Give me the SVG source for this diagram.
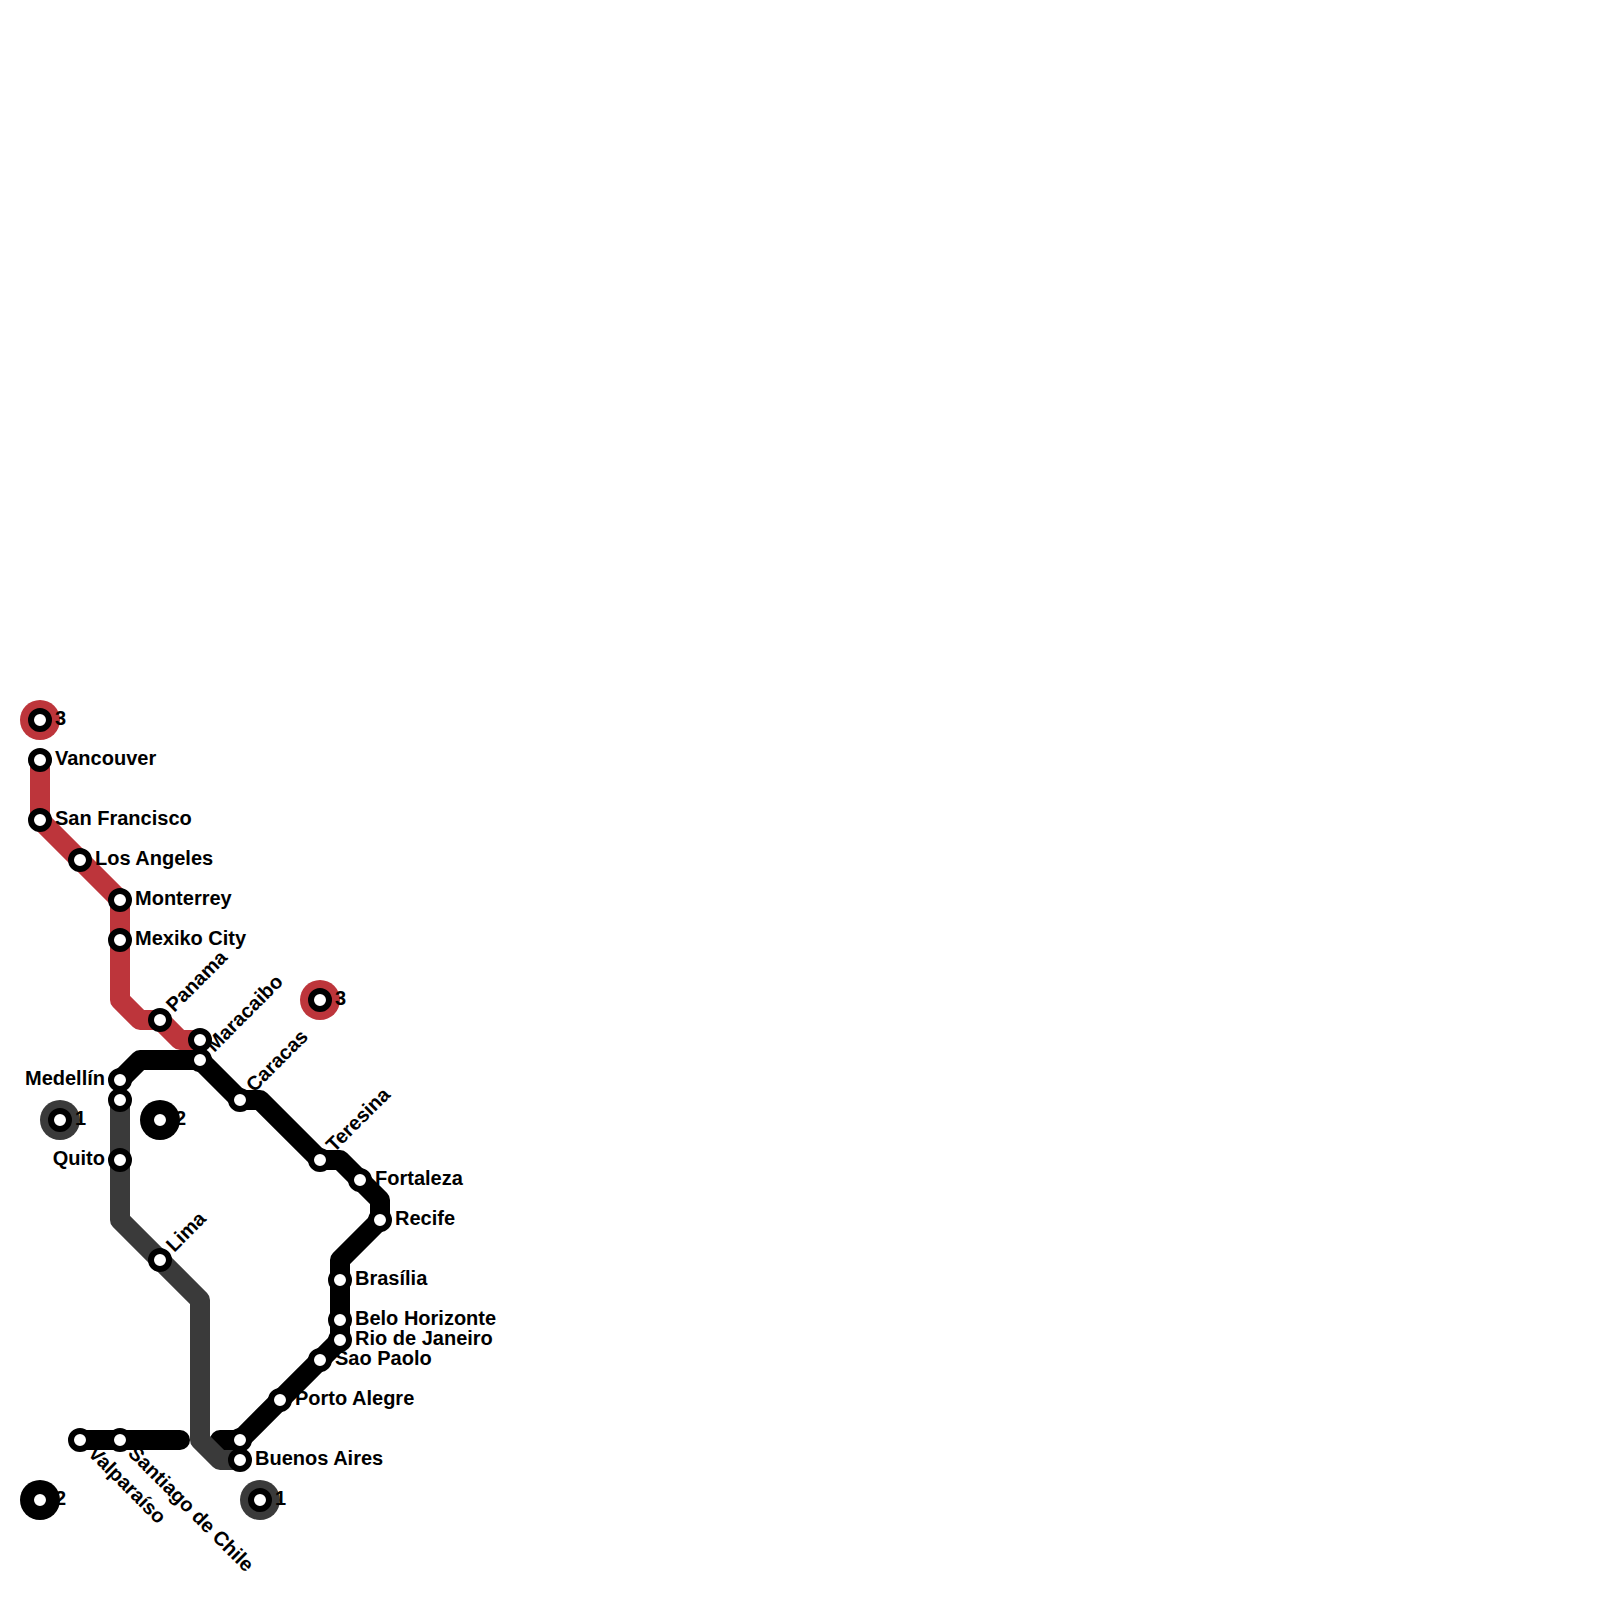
<svg xmlns="http://www.w3.org/2000/svg" width="1600" height="1600" viewBox="0 0 1600 1600">
<style>
.l{fill:none;stroke-width:20;stroke-linecap:round;stroke-linejoin:round}
.red{stroke:#bd353b}.blk{stroke:#000}.gry{stroke:#3a3a3a}
.s{fill:#fff;stroke:#000;stroke-width:6}
text{font-family:"Liberation Sans",Arial,sans-serif;font-weight:700;font-size:20px;fill:#000}
.e{text-anchor:end}
</style>
<g id="connectors">
<path id="line-red" class="l red" d="M40 760V820L120 900V1000L140 1020H160L180 1040H200"/>
<path id="line-black" class="l blk" d="M120 1080L140 1060H200L240 1100H260L320 1160H340L380 1200V1220L340 1260V1340L240 1440H220"/>
<path id="line-black-2" class="l blk" d="M80 1440H180"/>
<path id="line-gray" class="l gry" d="M120 1100V1220L200 1300V1440L220 1460H240"/>
</g>
<g id="term-3a"><circle cx="40" cy="720" r="20" fill="#bd353b"/><circle class="s" cx="40" cy="720" r="9"/><text x="55" y="725">3</text></g>
<g id="term-3b"><circle cx="320" cy="1000" r="20" fill="#bd353b"/><circle class="s" cx="320" cy="1000" r="9"/><text x="335" y="1005">3</text></g>
<g id="term-1a"><circle cx="60" cy="1120" r="20" fill="#3a3a3a"/><circle class="s" cx="60" cy="1120" r="9"/><text x="75" y="1125">1</text></g>
<g id="term-1b"><circle cx="260" cy="1500" r="20" fill="#3a3a3a"/><circle class="s" cx="260" cy="1500" r="9"/><text x="275" y="1505">1</text></g>
<g id="term-2a"><circle cx="160" cy="1120" r="20" fill="#000"/><circle class="s" cx="160" cy="1120" r="9"/><text x="175" y="1125">2</text></g>
<g id="term-2b"><circle cx="40" cy="1500" r="20" fill="#000"/><circle class="s" cx="40" cy="1500" r="9"/><text x="55" y="1505">2</text></g>
<g id="vancouver"><circle class="s" cx="40" cy="760" r="9"/><text x="55" y="765">Vancouver</text></g>
<g id="san-francisco"><circle class="s" cx="40" cy="820" r="9"/><text x="55" y="825">San Francisco</text></g>
<g id="los-angeles"><circle class="s" cx="80" cy="860" r="9"/><text x="95" y="865">Los Angeles</text></g>
<g id="monterrey"><circle class="s" cx="120" cy="900" r="9"/><text x="135" y="905">Monterrey</text></g>
<g id="mexiko-city"><circle class="s" cx="120" cy="940" r="9"/><text x="135" y="945">Mexiko City</text></g>
<g id="panama"><circle class="s" cx="160" cy="1020" r="9"/><text transform="rotate(-45 160 1020)" x="175" y="1025">Panama</text></g>
<g id="maracaibo-red"><circle class="s" cx="200" cy="1040" r="9"/></g>
<g id="maracaibo"><circle class="s" cx="200" cy="1060" r="9"/><text transform="rotate(-45 200 1060)" x="215" y="1065">Maracaibo</text></g>
<g id="caracas"><circle class="s" cx="240" cy="1100" r="9"/><text transform="rotate(-45 240 1100)" x="255" y="1105">Caracas</text></g>
<g id="teresina"><circle class="s" cx="320" cy="1160" r="9"/><text transform="rotate(-45 320 1160)" x="335" y="1165">Teresina</text></g>
<g id="fortaleza"><circle class="s" cx="360" cy="1180" r="9"/><text x="375" y="1185">Fortaleza</text></g>
<g id="recife"><circle class="s" cx="380" cy="1220" r="9"/><text x="395" y="1225">Recife</text></g>
<g id="brasilia"><circle class="s" cx="340" cy="1280" r="9"/><text x="355" y="1285">Brasília</text></g>
<g id="belo-horizonte"><circle class="s" cx="340" cy="1320" r="9"/><text x="355" y="1325">Belo Horizonte</text></g>
<g id="rio"><circle class="s" cx="340" cy="1340" r="9"/><text x="355" y="1345">Rio de Janeiro</text></g>
<g id="sao-paolo"><circle class="s" cx="320" cy="1360" r="9"/><text x="335" y="1365">Sao Paolo</text></g>
<g id="porto-alegre"><circle class="s" cx="280" cy="1400" r="9"/><text x="295" y="1405">Porto Alegre</text></g>
<g id="ba-black"><circle class="s" cx="240" cy="1440" r="9"/></g>
<g id="buenos-aires"><circle class="s" cx="240" cy="1460" r="9"/><text x="255" y="1465">Buenos Aires</text></g>
<g id="medellin"><circle class="s" cx="120" cy="1080" r="9"/><text class="e" x="105" y="1085">Medellín</text></g>
<g id="medellin-gray"><circle class="s" cx="120" cy="1100" r="9"/></g>
<g id="quito"><circle class="s" cx="120" cy="1160" r="9"/><text class="e" x="105" y="1165">Quito</text></g>
<g id="lima"><circle class="s" cx="160" cy="1260" r="9"/><text transform="rotate(-45 160 1260)" x="175" y="1265">Lima</text></g>
<g id="valparaiso"><circle class="s" cx="80" cy="1440" r="9"/><text transform="rotate(45 80 1440)" x="95" y="1445">Valparaíso</text></g>
<g id="santiago"><circle class="s" cx="120" cy="1440" r="9"/><text transform="rotate(45 120 1440)" x="135" y="1445">Santiago de Chile</text></g>
</svg>
